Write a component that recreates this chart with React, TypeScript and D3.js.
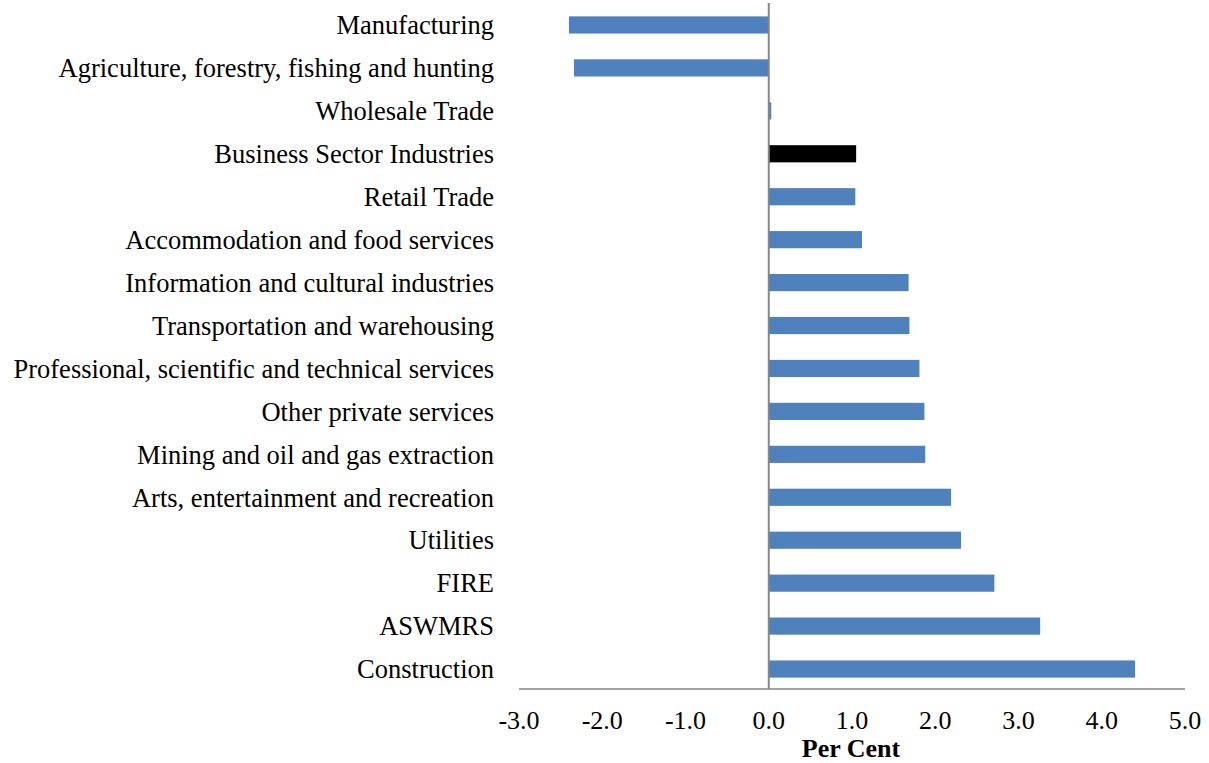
import React from "react";
import * as d3 from "d3";

const categories = [
  "Manufacturing",
  "Agriculture, forestry, fishing and hunting",
  "Wholesale Trade",
  "Business Sector Industries",
  "Retail Trade",
  "Accommodation and food services",
  "Information and cultural industries",
  "Transportation and warehousing",
  "Professional, scientific and technical services",
  "Other private services",
  "Mining and oil and gas extraction",
  "Arts, entertainment and recreation",
  "Utilities",
  "FIRE",
  "ASWMRS",
  "Construction",
];
const values = [-2.4, -2.34, 0.03, 1.05, 1.04, 1.12, 1.68, 1.69, 1.81, 1.87, 1.88, 2.19, 2.31, 2.71, 3.26, 4.4];
const highlight = "Business Sector Industries";
const ticks = [-3, -2, -1, 0, 1, 2, 3, 4, 5];
const xLabel = "Per Cent";

export default function App() {
  const W = 1209, H = 763;
  const x = d3.scaleLinear().domain([-3, 5]).range([519, 1185]);
  const y = d3.scaleBand<string>().domain(categories).range([3.5, 690.5]).paddingInner(0.6).paddingOuter(0.3);
  const font = "'Liberation Serif', 'Times New Roman', serif";
  const axisY = 689;
  return (
    <svg width={W} height={H} style={{ position: "absolute", left: 0, top: 0, background: "#fff" }} fontFamily={font}>
      {categories.map((c, i) => {
        const v = values[i];
        return (
          <rect
            key={c}
            x={Math.min(x(0), x(v))}
            y={y(c)}
            width={Math.abs(x(v) - x(0))}
            height={y.bandwidth()}
            fill={c === highlight ? "#000000" : "#4F81BD"}
          />
        );
      })}
      <line x1={x(0)} x2={x(0)} y1={3} y2={axisY} stroke="#868686" strokeWidth={2} />
      <line x1={x(-3)} x2={x(5)} y1={axisY} y2={axisY} stroke="#868686" strokeWidth={1.5} />
      {categories.map((c) => (
        <text key={c} x={494} y={(y(c) as number) + y.bandwidth() / 2} dy="0.35em" textAnchor="end" fontSize={26.5} fill="#000">
          {c}
        </text>
      ))}
      {ticks.map((t) => (
        <text key={t} x={x(t)} y={729} textAnchor="middle" fontSize={26} fill="#000">
          {t.toFixed(1)}
        </text>
      ))}
      <text x={851} y={757} textAnchor="middle" fontSize={26} fontWeight="bold" fill="#000">
        {xLabel}
      </text>
    </svg>
  );
}
